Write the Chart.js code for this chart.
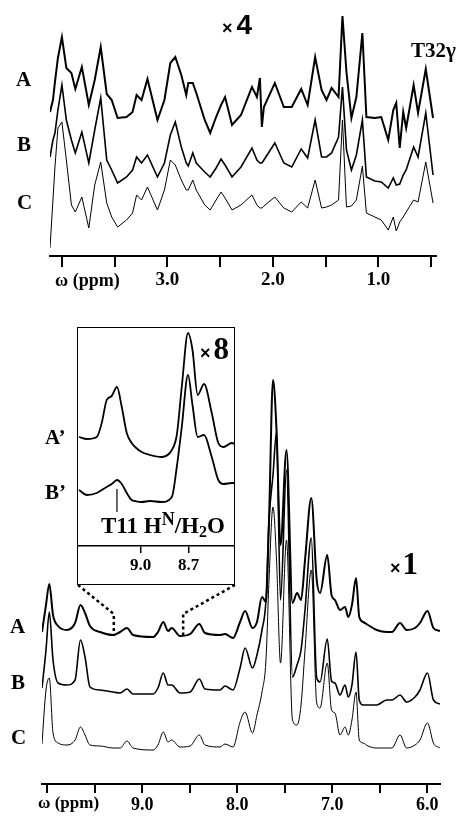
<!DOCTYPE html>
<html>
<head>
<meta charset="utf-8">
<script src="https://cdn.jsdelivr.net/npm/chart.js@4"></script>
<style>
body{margin:0;background:#fff;width:456px;height:819px;overflow:hidden;position:relative;color:#000;
  font-family:'Liberation Serif','Times New Roman',serif;font-weight:bold}
canvas,.t,#box{position:absolute}
.t{line-height:1;white-space:nowrap}
.x{font-family:'Liberation Sans',Arial,sans-serif;font-size:18px}
</style>
</head>
<body>
<canvas id="top" width="456" height="300" style="left:0;top:0"></canvas>
<canvas id="bot" width="456" height="519" style="left:0;top:300px"></canvas>
<div id="box" style="left:77px;top:327px;width:158px;height:258px;border:1.5px solid #000;box-sizing:border-box;background:#fff"></div>
<canvas id="ins" width="157" height="257" style="left:78px;top:328px"></canvas>

<div class="t" style="left:16px;top:69px;font-size:21px">A</div>
<div class="t" style="left:17px;top:134px;font-size:21px">B</div>
<div class="t" style="left:17px;top:192px;font-size:21px">C</div>
<div class="t" style="left:222px;top:11px;font-size:28px;line-height:28px"><span class="x">×</span><span style="font-family:'Liberation Sans',Arial,sans-serif;margin-left:4px">4</span></div>
<div class="t" style="left:411px;top:40px;font-size:21px">T32γ</div>
<div class="t" style="left:55px;top:271px;font-size:18px">ω (ppm)</div>

<div class="t" style="left:45px;top:427px;font-size:21px">A’</div>
<div class="t" style="left:45px;top:482px;font-size:21px">B’</div>
<div class="t" style="left:200px;top:333px;font-size:31px;line-height:31px"><span class="x">×</span><span style="margin-left:3px">8</span></div>
<div class="t" style="left:101px;top:514px;font-size:23px">T11 H<span style="font-size:0.78em;position:relative;top:-0.42em">N</span>/H<span style="font-size:0.7em;position:relative;top:0.25em">2</span>O</div>

<div class="t" style="left:10px;top:616px;font-size:21px">A</div>
<div class="t" style="left:11px;top:672px;font-size:21px">B</div>
<div class="t" style="left:11px;top:727px;font-size:21px">C</div>
<div class="t" style="left:390px;top:548px;font-size:31px;line-height:31px"><span class="x">×</span><span style="margin-left:2px">1</span></div>
<div class="t" style="left:38px;top:794px;font-size:17px">ω (ppm)</div>

<script>
// aliphatic region (x4), chemical shift in ppm
const ppmTop = [4.113, 4.085, 4.066, 4.038, 4.000, 3.958, 3.910, 3.873, 3.811, 3.745, 3.689, 3.632, 3.575, 3.528, 3.472, 3.387, 3.330, 3.292, 3.245, 3.189, 3.094, 3.028, 2.972, 2.925, 2.868, 2.821, 2.802, 2.759, 2.726, 2.646, 2.594, 2.538, 2.491, 2.453, 2.387, 2.302, 2.198, 2.151, 2.123, 2.104, 2.085, 1.981, 1.896, 1.821, 1.731, 1.670, 1.599, 1.538, 1.491, 1.443, 1.377, 1.340, 1.302, 1.255, 1.208, 1.151, 1.113, 1.033, 0.972, 0.906, 0.858, 0.830, 0.797, 0.764, 0.736, 0.665, 0.623, 0.550, 0.481];
const topA = [38, 50, 68, 92, 113, 82, 77, 61, 83, 45, 70, 103, 56, 50, 32, 33, 38, 55, 50, 71, 30, 50, 87, 93, 75, 55, 67, 67, 57, 30, 17, 33, 45, 53, 25, 35, 63, 53, 72, 23, 43, 67, 43, 43, 61, 45, 93, 60, 50, 62, 53, 134, 78, 32, 53, 117, 33, 32, 33, 10, 40, 47, 2, 38, 22, 65, 37, 81, 32];
const topB = [43, 60, 67, 90, 115, 80, 60, 47, 68, 37, 70, 102, 40, 30, 17, 23, 30, 43, 37, 45, 23, 37, 65, 78, 53, 37, 34, 47, 37, 28, 23, 32, 41, 35, 23, 33, 52, 40, 37, 37, 40, 57, 37, 33, 51, 42, 80, 43, 43, 47, 63, 113, 50, 30, 45, 80, 23, 19, 18, 12, 22, 15, 16, 25, 30, 53, 43, 87, 25];
const topC = [2, 50, 83, 122, 128, 90, 45, 38, 53, 22, 65, 88, 47, 33, 23, 30, 37, 55, 50, 63, 40, 60, 90, 85, 70, 60, 60, 70, 60, 45, 40, 50, 58, 52, 40, 45, 55, 45, 42, 42, 44, 53, 42, 38, 48, 42, 70, 42, 43, 45, 50, 130, 43, 44, 50, 84, 37, 33, 30, 20, 33, 19, 28, 33, 38, 50, 48, 88, 47];
const topTicks = [4.0, 3.5, 3.0, 2.5, 2.0, 1.5, 1.0, 0.5];
const topLabels = [3.0, 2.0, 1.0];

// amide / aromatic region (x1)
const ppmBot = [10.056, 10.014, 9.979, 9.940, 9.887, 9.793, 9.708, 9.651, 9.603, 9.551, 9.445, 9.308, 9.235, 9.161, 9.098, 8.887, 8.835, 8.779, 8.729, 8.691, 8.603, 8.497, 8.400, 8.340, 8.182, 8.129, 8.045, 7.971, 7.918, 7.840, 7.793, 7.740, 7.698, 7.666, 7.624, 7.587, 7.545, 7.482, 7.419, 7.371, 7.329, 7.287, 7.221, 7.164, 7.129, 7.053, 7.008, 6.972, 6.919, 6.866, 6.832, 6.793, 6.750, 6.716, 6.674, 6.624, 6.533, 6.427, 6.372, 6.287, 6.217, 6.129, 6.077, 5.998, 5.935, 5.866];
const botA = [8, 35, 56, 25, 14, 10, 17, 35, 27, 14, 8, 5, 8, 12, 5, 3, 8, 18, 9, 12, 4, 6, 16, 7, 5, 6, 2, 18, 29, 12, 18, 43, 38, 120, 260, 210, 95, 190, 37, 47, 40, 80, 142, 60, 47, 85, 45, 40, 30, 33, 23, 35, 62, 23, 18, 15, 10, 8, 8, 17, 10, 12, 17, 29, 12, 9];
const botB = [17, 55, 93, 45, 22, 20, 25, 65, 48, 18, 15, 13, 12, 16, 11, 11, 17, 32, 20, 20, 12, 13, 26, 16, 15, 19, 15, 37, 57, 37, 50, 75, 105, 185, 230, 273, 105, 235, 28, 40, 55, 95, 167, 27, 23, 66, 24, 22, 10, 20, 8, 20, 53, 5, 0, 0, 0, 5, 5, 10, 3, 8, 15, 32, 5, 1];
const botC = [16, 70, 82, 27, 17, 15, 20, 33, 25, 15, 14, 12, 12, 19, 12, 10, 15, 28, 18, 20, 13, 14, 25, 15, 13, 16, 13, 38, 48, 27, 45, 68, 100, 180, 253, 200, 97, 220, 40, 35, 55, 110, 190, 57, 52, 97, 50, 47, 25, 33, 25, 40, 68, 20, 17, 14, 12, 12, 12, 25, 12, 15, 20, 37, 17, 12];
const botTicks = [10.0, 9.5, 9.0, 8.5, 8.0, 7.5, 7.0, 6.5, 6.0];
const botLabels = [9.0, 8.0, 7.0, 6.0];

// inset (x8), T11 HN / water exchange
const ppmIns = [9.384, 9.334, 9.273, 9.242, 9.211, 9.180, 9.147, 9.117, 9.086, 9.055, 9.034, 8.993, 8.941, 8.868, 8.805, 8.774, 8.743, 8.704, 8.676, 8.644, 8.604, 8.556, 8.515, 8.483, 8.431, 8.410];
const insA = [23, 21, 23, 37, 60, 64, 73, 53, 27, 17, 13, 8, 5, 3, 10, 25, 73, 127, 110, 65, 76, 47, 17, 13, 17, 16];
const insB = [15, 10, 12, 15, 18, 21, 25, 21, 12, 5, 4, 3, 4, 3, 8, 38, 78, 130, 100, 68, 70, 48, 25, 21, 22, 22];
const insTicks = [9.0, 8.7];
const insEdges = [9.30, 8.57];   // region of trace A blown up in the inset
const t11Peak = 9.147;

// layout
const topOffsets = [106, 56, 6];
const botOffsets = [144, 79, 24];
const insOffsets = [86, 41];
const widths = [2, 1.6, 1];
const serif = "'Liberation Serif', 'Times New Roman', serif";

function trace(ppm, vals, off, w) {
  return {
    data: ppm.map((p, i) => ({x: p, y: vals[i] + off})),
    borderColor: '#000',
    borderWidth: w,
    pointRadius: 0,
    fill: false
  };
}

function xAxis(min, max, ticks, labels, size, tickLen, lw, h) {
  return {
    type: 'linear',
    reverse: true,
    min: min,
    max: max,
    afterBuildTicks: s => { s.ticks = ticks.map(v => ({value: v})); },
    afterFit: s => { s.height = h; },
    border: {display: true, color: '#000', width: lw},
    grid: {drawOnChartArea: false, drawTicks: true, tickLength: tickLen, color: '#000', lineWidth: lw, tickWidth: lw},
    ticks: {
      autoSkip: false, maxRotation: 0, padding: 2, color: '#000',
      font: {family: serif, weight: 'bold', size: size},
      callback: v => labels.includes(v) ? v.toFixed(1) : ''
    }
  };
}

function base(padding, x, ymax, tension) {
  return {
    responsive: false,
    animation: false,
    devicePixelRatio: 1,
    layout: {padding: padding},
    plugins: {legend: {display: false}, tooltip: {enabled: false}},
    elements: {line: tension ? {cubicInterpolationMode: 'monotone'} : {tension: 0}},
    scales: {x: x, y: {display: false, min: 0, max: ymax}}
  };
}

new Chart(document.getElementById('top'), {
  type: 'line',
  data: {datasets: [
    trace(ppmTop, topA, topOffsets[0], widths[0]),
    trace(ppmTop, topB, topOffsets[1], widths[1]),
    trace(ppmTop, topC, topOffsets[2], widths[2])
  ]},
  options: base({left: 50, right: 20, top: 6, bottom: 0},
    xAxis(0.453, 4.113, topTicks, topLabels, 19, 11, 2, 44), 250, false)
});

const connector = {
  id: 'connector',
  afterDatasetsDraw(chart) {
    const {ctx, scales: {x, y}} = chart;
    const corners = [78, 235];
    ctx.save();
    ctx.setLineDash([3, 3]);
    ctx.lineWidth = 2.5;
    ctx.strokeStyle = '#000';
    insEdges.forEach((p, i) => {
      const px = x.getPixelForValue(p);
      ctx.beginPath();
      ctx.moveTo(corners[i], 285);
      ctx.lineTo(px, 314);
      ctx.lineTo(px, y.getPixelForValue(botOffsets[0] + 4));
      ctx.stroke();
    });
    ctx.restore();
  }
};

new Chart(document.getElementById('bot'), {
  type: 'line',
  data: {datasets: [
    trace(ppmBot, botA, botOffsets[0], widths[0]),
    trace(ppmBot, botB, botOffsets[1], widths[1]),
    trace(ppmBot, botC, botOffsets[2], widths[2])
  ]},
  options: base({left: 42, right: 16, top: 34, bottom: 0},
    xAxis(5.866, 10.056, botTicks, botLabels, 18, 9, 2, 35), 450, true),
  plugins: [connector]
});

const pointer = {
  id: 'pointer',
  afterDatasetsDraw(chart) {
    const {ctx, scales: {x, y}} = chart;
    const px = x.getPixelForValue(t11Peak);
    ctx.save();
    ctx.lineWidth = 1.2;
    ctx.strokeStyle = '#000';
    ctx.beginPath();
    ctx.moveTo(px, y.getPixelForValue(insOffsets[1] + insB[6]) + 9);
    ctx.lineTo(px, 184);
    ctx.stroke();
    ctx.restore();
  }
};

new Chart(document.getElementById('ins'), {
  type: 'line',
  data: {datasets: [
    trace(ppmIns, insA, insOffsets[0], 1.8),
    trace(ppmIns, insB, insOffsets[1], 1.8)
  ]},
  options: base({left: 0, right: 0, top: 0, bottom: 0},
    xAxis(8.411, 9.390, insTicks, insTicks, 17, 7, 1.5, 39), 218, true),
  plugins: [pointer]
});
</script>
</body>
</html>
